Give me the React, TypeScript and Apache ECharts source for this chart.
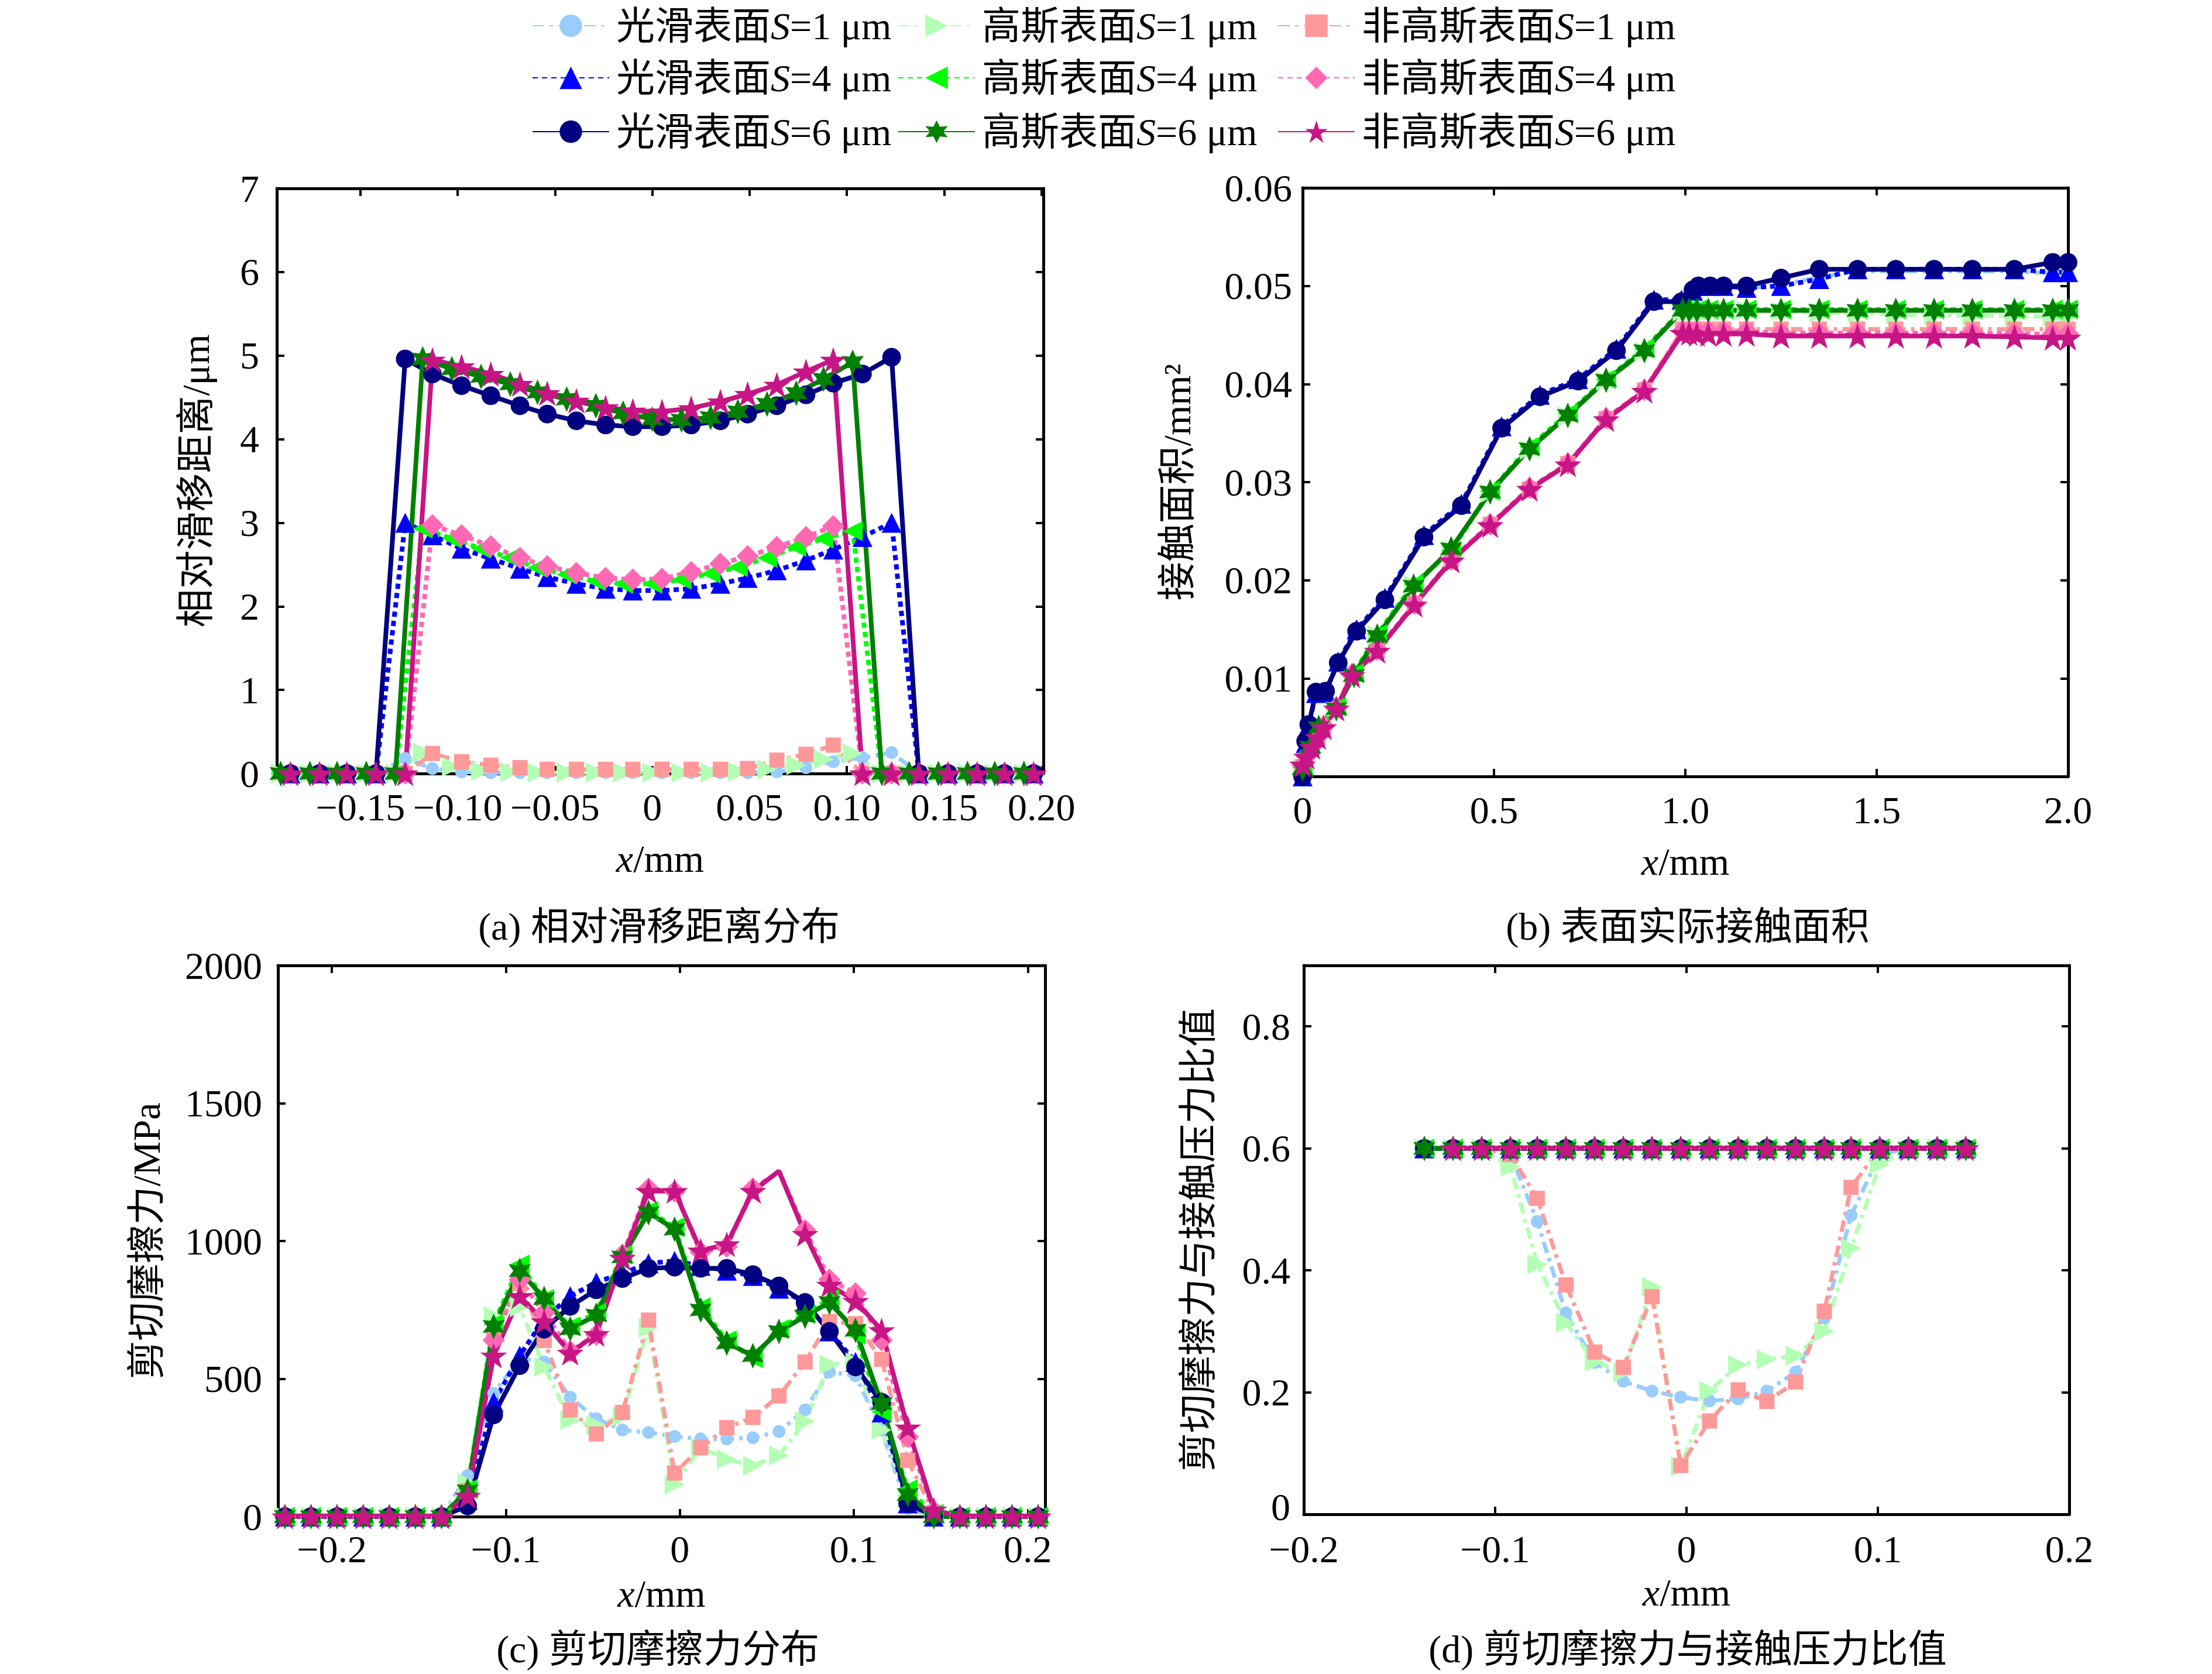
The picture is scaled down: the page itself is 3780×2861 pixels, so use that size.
import React, { useEffect, useRef } from "react";
import * as echarts from "echarts";

const FONT = "'Liberation Serif', 'Times New Roman', 'Noto Sans CJK SC', serif";

const NAMES = [
  "光滑表面S=1 μm", "高斯表面S=1 μm", "非高斯表面S=1 μm",
  "光滑表面S=4 μm", "高斯表面S=4 μm", "非高斯表面S=4 μm",
  "光滑表面S=6 μm", "高斯表面S=6 μm", "非高斯表面S=6 μm",
];

// ---------- panel (a): relative slip distance ----------
const aXSmooth = [-0.186, -0.171, -0.157, -0.142, -0.127, -0.113, -0.098, -0.083, -0.068, -0.054, -0.039, -0.024, -0.010, 0.005, 0.020, 0.035, 0.049, 0.064, 0.079, 0.093, 0.108, 0.123, 0.137, 0.152, 0.167, 0.181, 0.196];
const aXGauss = [-0.191, -0.176, -0.162, -0.147, -0.132, -0.118, -0.103, -0.088, -0.073, -0.059, -0.044, -0.029, -0.015, 0.000, 0.015, 0.030, 0.044, 0.059, 0.074, 0.088, 0.103, 0.118, 0.132, 0.147, 0.162, 0.176, 0.191];
const aSmooth1 = [0, 0, 0, 0, 0.18, 0.06, 0.02, 0.01, 0.01, 0.01, 0.01, 0.01, 0.01, 0.01, 0.01, 0.01, 0.01, 0.02, 0.07, 0.14, 0.19, 0.25, 0, 0, 0, 0, 0];
const aGauss1 = [0, 0, 0, 0, 0, 0.25, 0.08, 0.03, 0.02, 0.01, 0.01, 0.01, 0.01, 0.01, 0.01, 0.01, 0.02, 0.05, 0.10, 0.17, 0.24, 0, 0, 0, 0, 0, 0];
const aNon1 = [0, 0, 0, 0, 0, 0.24, 0.14, 0.10, 0.07, 0.05, 0.05, 0.05, 0.05, 0.05, 0.05, 0.05, 0.06, 0.16, 0.23, 0.34, 0, 0, 0, 0, 0, 0, 0];
const aSmooth4 = [0, 0, 0, 0, 3.00, 2.85, 2.69, 2.57, 2.45, 2.35, 2.27, 2.21, 2.19, 2.19, 2.21, 2.27, 2.34, 2.43, 2.55, 2.68, 2.83, 3.00, 0, 0, 0, 0, 0];
const aGauss4 = [0, 0, 0, 0, 0, 2.93, 2.81, 2.69, 2.58, 2.46, 2.38, 2.30, 2.27, 2.27, 2.32, 2.39, 2.47, 2.58, 2.71, 2.81, 2.90, 0, 0, 0, 0, 0, 0];
const aNon4 = [0, 0, 0, 0, 0, 2.97, 2.85, 2.72, 2.58, 2.48, 2.40, 2.34, 2.32, 2.33, 2.41, 2.51, 2.60, 2.71, 2.83, 2.96, 0, 0, 0, 0, 0, 0, 0];
const aSmooth6 = [0, 0, 0, 0, 4.96, 4.78, 4.64, 4.52, 4.40, 4.30, 4.22, 4.17, 4.15, 4.15, 4.17, 4.22, 4.30, 4.40, 4.53, 4.67, 4.78, 4.98, 0, 0, 0, 0, 0];
const aGauss6 = [0, 0, 0, 0, 0, 4.96, 4.84, 4.75, 4.66, 4.56, 4.48, 4.40, 4.31, 4.24, 4.23, 4.26, 4.33, 4.42, 4.55, 4.72, 4.92, 0, 0, 0, 0, 0, 0];
const aNon6 = [0, 0, 0, 0, 0, 4.95, 4.87, 4.78, 4.66, 4.55, 4.46, 4.38, 4.34, 4.33, 4.37, 4.45, 4.54, 4.65, 4.81, 4.95, 0, 0, 0, 0, 0, 0, 0];
const aXTicks = [-0.15, -0.10, -0.05, 0, 0.05, 0.10, 0.15, 0.20];
const aXLabels = ["\u22120.15", "\u22120.10", "\u22120.05", "0", "0.05", "0.10", "0.15", "0.20"];
const aYTicks = [0, 1, 2, 3, 4, 5, 6, 7];
const aYLabels = ["0", "1", "2", "3", "4", "5", "6", "7"];

// ---------- panel (b): real contact area ----------
const bXSmooth = [0, 0.008, 0.016, 0.035, 0.060, 0.093, 0.141, 0.215, 0.317, 0.415, 0.520, 0.620, 0.720, 0.820, 0.918, 0.990, 1.020, 1.034, 1.065, 1.100, 1.160, 1.250, 1.350, 1.450, 1.550, 1.650, 1.750, 1.860, 1.960, 2.000];
const bSmooth1 = [0.0000, 0.0035, 0.0052, 0.0085, 0.0086, 0.0116, 0.0149, 0.0181, 0.0245, 0.0277, 0.0356, 0.0388, 0.0404, 0.0435, 0.0485, 0.0485, 0.0495, 0.0499, 0.0499, 0.0499, 0.0498, 0.0501, 0.0509, 0.0515, 0.0515, 0.0515, 0.0515, 0.0515, 0.0513, 0.0513];
const bSmooth4 = [0.0000, 0.0034, 0.0052, 0.0085, 0.0086, 0.0117, 0.0150, 0.0182, 0.0246, 0.0278, 0.0357, 0.0389, 0.0405, 0.0436, 0.0486, 0.0486, 0.0495, 0.0500, 0.0500, 0.0500, 0.0498, 0.0500, 0.0507, 0.0517, 0.0517, 0.0517, 0.0517, 0.0517, 0.0514, 0.0514];
const bSmooth6 = [0.0000, 0.0036, 0.0053, 0.0086, 0.0087, 0.0116, 0.0148, 0.0180, 0.0244, 0.0276, 0.0355, 0.0387, 0.0403, 0.0434, 0.0484, 0.0484, 0.0496, 0.0500, 0.0500, 0.0500, 0.0500, 0.0508, 0.0517, 0.0517, 0.0517, 0.0517, 0.0517, 0.0517, 0.0524, 0.0524];
const bXGauss = [0, 0.020, 0.042, 0.088, 0.134, 0.195, 0.290, 0.388, 0.490, 0.593, 0.693, 0.793, 0.893, 0.993, 1.010, 1.030, 1.060, 1.100, 1.160, 1.250, 1.350, 1.450, 1.550, 1.650, 1.750, 1.860, 1.960, 2.000];
const bGauss1 = [0.0008, 0.0031, 0.0051, 0.0070, 0.0104, 0.0144, 0.0195, 0.0231, 0.0289, 0.0333, 0.0367, 0.0403, 0.0433, 0.0474, 0.0474, 0.0474, 0.0474, 0.0474, 0.0475, 0.0474, 0.0473, 0.0472, 0.0471, 0.0470, 0.0470, 0.0469, 0.0469, 0.0469];
const bGauss4 = [0.0009, 0.0032, 0.0052, 0.0071, 0.0105, 0.0145, 0.0196, 0.0230, 0.0291, 0.0336, 0.0370, 0.0405, 0.0436, 0.0476, 0.0476, 0.0476, 0.0476, 0.0476, 0.0476, 0.0476, 0.0476, 0.0476, 0.0476, 0.0476, 0.0476, 0.0476, 0.0476, 0.0476];
const bGauss6 = [0.0008, 0.0030, 0.0050, 0.0069, 0.0103, 0.0143, 0.0194, 0.0232, 0.0290, 0.0334, 0.0368, 0.0404, 0.0434, 0.0475, 0.0475, 0.0475, 0.0475, 0.0475, 0.0475, 0.0475, 0.0475, 0.0475, 0.0475, 0.0475, 0.0475, 0.0475, 0.0475, 0.0475];
const bXNon = [0, 0.010, 0.025, 0.040, 0.055, 0.088, 0.129, 0.195, 0.292, 0.389, 0.490, 0.593, 0.693, 0.793, 0.893, 0.993, 1.010, 1.030, 1.060, 1.100, 1.160, 1.250, 1.350, 1.450, 1.550, 1.650, 1.750, 1.860, 1.960, 2.000];
const bNon1 = [0.0010, 0.0020, 0.0030, 0.0041, 0.0051, 0.0070, 0.0103, 0.0128, 0.0176, 0.0221, 0.0257, 0.0293, 0.0319, 0.0365, 0.0394, 0.0456, 0.0456, 0.0456, 0.0456, 0.0456, 0.0456, 0.0456, 0.0456, 0.0456, 0.0456, 0.0456, 0.0456, 0.0456, 0.0456, 0.0456];
const bNon4 = [0.0011, 0.0021, 0.0031, 0.0041, 0.0051, 0.0070, 0.0104, 0.0129, 0.0176, 0.0221, 0.0257, 0.0294, 0.0319, 0.0365, 0.0394, 0.0454, 0.0454, 0.0454, 0.0454, 0.0454, 0.0454, 0.0452, 0.0452, 0.0452, 0.0452, 0.0452, 0.0452, 0.0451, 0.0451, 0.0451];
const bNon6 = [0.0012, 0.0020, 0.0030, 0.0040, 0.0050, 0.0069, 0.0103, 0.0128, 0.0175, 0.0220, 0.0256, 0.0293, 0.0318, 0.0364, 0.0393, 0.0452, 0.0452, 0.0451, 0.0451, 0.0451, 0.0451, 0.0449, 0.0449, 0.0449, 0.0449, 0.0449, 0.0449, 0.0448, 0.0447, 0.0447];
const bXTicks = [0, 0.5, 1.0, 1.5, 2.0];
const bXLabels = ["0", "0.5", "1.0", "1.5", "2.0"];
const bYTicks = [0, 0.01, 0.02, 0.03, 0.04, 0.05, 0.06];
const bYLabels = ["", "0.01", "0.02", "0.03", "0.04", "0.05", "0.06"];

// ---------- panel (c): shear friction stress ----------
const cX = [-0.227, -0.212, -0.197, -0.182, -0.167, -0.152, -0.137, -0.122, -0.107, -0.092, -0.078, -0.063, -0.048, -0.033, -0.018, -0.003, 0.012, 0.027, 0.042, 0.057, 0.072, 0.086, 0.101, 0.116, 0.131, 0.146, 0.161, 0.176, 0.191, 0.206];
const cSmooth1 = [0, 0, 0, 0, 0, 0, 0, 149, 447, 575, 561, 433, 355, 314, 305, 291, 282, 282, 286, 309, 387, 525, 511, 314, 29, 0, 0, 0, 0, 0];
const cGauss1 = [0, 0, 0, 0, 0, 0, 0, 121, 727, 760, 543, 350, 332, 364, 685, 117, 250, 208, 185, 222, 346, 552, 560, 314, 66, 0, 0, 0, 0, 0];
const cNon1 = [0, 0, 0, 0, 0, 0, 0, 94, 653, 846, 639, 387, 300, 378, 713, 158, 250, 323, 360, 438, 561, 708, 700, 571, 204, 15, 0, 0, 0, 0];
const cSmooth4 = [0, 0, 0, 0, 0, 0, 0, 60, 415, 584, 717, 800, 850, 883, 919, 928, 910, 892, 873, 827, 777, 672, 561, 378, 48, 0, 0, 0, 0, 0];
const cGauss4 = [0, 0, 0, 0, 0, 0, 0, 100, 700, 915, 790, 690, 740, 950, 1110, 1050, 760, 640, 575, 680, 735, 790, 660, 380, 100, 10, 0, 0, 0, 0];
const cNon4 = [0, 0, 0, 0, 0, 0, 0, 80, 640, 860, 740, 600, 660, 950, 1190, 1180, 960, 980, 1190, 1250, 1040, 860, 810, 640, 290, 20, 0, 0, 0, 0];
const cSmooth6 = [0, 0, 0, 0, 0, 0, 0, 39, 369, 548, 680, 763, 823, 864, 901, 905, 901, 901, 878, 837, 777, 672, 543, 415, 48, 2, 0, 0, 0, 0];
const cGauss6 = [0, 0, 0, 0, 0, 0, 0, 94, 690, 892, 791, 681, 731, 942, 1103, 1043, 750, 630, 584, 672, 727, 777, 676, 410, 80, 0, 0, 0, 0, 0];
const cNon6 = [0, 0, 0, 0, 0, 0, 0, 75, 584, 800, 708, 594, 662, 938, 1181, 1181, 965, 988, 1181, 1254, 1025, 841, 782, 676, 323, 25, 0, 0, 0, 0];
const cNoMarker = [19];
const cXTicks = [-0.2, -0.1, 0, 0.1, 0.2];
const cXLabels = ["\u22120.2", "\u22120.1", "0", "0.1", "0.2"];
const cYTicks = [0, 500, 1000, 1500, 2000];
const cYLabels = ["0", "500", "1000", "1500", "2000"];

// ---------- panel (d): shear friction / contact pressure ----------
const dX = [-0.137, -0.122, -0.107, -0.092, -0.078, -0.063, -0.048, -0.033, -0.018, -0.003, 0.012, 0.027, 0.042, 0.057, 0.072, 0.086, 0.101, 0.116, 0.131, 0.146];
const dSmooth1 = [0.6, 0.6, 0.6, 0.59, 0.48, 0.33, 0.249, 0.218, 0.202, 0.192, 0.186, 0.189, 0.202, 0.233, 0.322, 0.49, 0.59, 0.6, 0.6, 0.6];
const dGauss1 = [0.6, 0.6, 0.6, 0.57, 0.41, 0.314, 0.25, 0.233, 0.373, 0.078, 0.202, 0.245, 0.254, 0.26, 0.30, 0.436, 0.574, 0.597, 0.6, 0.6];
const dNon1 = [0.6, 0.6, 0.6, 0.59, 0.518, 0.376, 0.266, 0.241, 0.357, 0.08, 0.153, 0.204, 0.185, 0.217, 0.333, 0.536, 0.6, 0.6, 0.6, 0.6];
const dSmooth4 = [0.6, 0.6, 0.6, 0.6, 0.6, 0.6, 0.6, 0.6, 0.6, 0.6, 0.6, 0.6, 0.6, 0.6, 0.6, 0.6, 0.6, 0.6, 0.6, 0.6];
const dGauss4 = [0.6, 0.6, 0.6, 0.6, 0.6, 0.6, 0.6, 0.6, 0.6, 0.6, 0.6, 0.6, 0.6, 0.6, 0.6, 0.6, 0.6, 0.6, 0.6, 0.6];
const dNon4 = [null, 0.6, 0.6, 0.6, 0.6, 0.6, 0.6, 0.6, 0.6, 0.6, 0.6, 0.6, 0.6, 0.6, 0.6, 0.6, 0.6, 0.6, 0.6, 0.6];
const dSmooth6 = [0.6, 0.6, 0.6, 0.6, 0.6, 0.6, 0.6, 0.6, 0.6, 0.6, 0.6, 0.6, 0.6, 0.6, 0.6, 0.6, 0.6, 0.6, 0.6, 0.6];
const dGauss6 = [0.6, 0.6, 0.6, 0.6, 0.6, 0.6, 0.6, 0.6, 0.6, 0.6, 0.6, 0.6, 0.6, 0.6, 0.6, 0.6, 0.6, 0.6, 0.6, 0.6];
const dNon6 = [null, 0.6, 0.6, 0.6, 0.6, 0.6, 0.6, 0.6, 0.6, 0.6, 0.6, 0.6, 0.6, 0.6, 0.6, 0.6, 0.6, 0.6, 0.6, 0.6];
const dXTicks = [-0.2, -0.1, 0, 0.1, 0.2];
const dXLabels = ["\u22120.2", "\u22120.1", "0", "0.1", "0.2"];
const dYTicks = [0, 0.2, 0.4, 0.6, 0.8];
const dYLabels = ["0", "0.2", "0.4", "0.6", "0.8"];

const PENT = "path://M50,0 L61.2,34.5 L97.6,34.5 L68.2,55.9 L79.4,90.5 L50,69.1 L20.6,90.5 L31.8,55.9 L2.4,34.5 L38.8,34.5 Z";
const HEX = "path://M50,0 L62.5,28.35 L93.3,25 L75,50 L93.3,75 L62.5,71.65 L50,100 L37.5,71.65 L6.7,75 L25,50 L6.7,25 L37.5,28.35 Z";

const DASHDOT = [20, 9, 6, 9];
const DOT = [9, 7];
const STYLES = [
  { color: "#99CCFF", symbol: "circle", size: 22, rotate: 0, dash: DASHDOT, width: 7 },
  { color: "#B3FFB3", symbol: "triangle", size: 34, rotate: -90, dash: DASHDOT, width: 7 },
  { color: "#FF9999", symbol: "rect", size: 26, rotate: 0, dash: DASHDOT, width: 7 },
  { color: "#0000FF", symbol: "triangle", size: 34, rotate: 0, dash: DOT, width: 8 },
  { color: "#00FF00", symbol: "triangle", size: 34, rotate: 90, dash: DOT, width: 8 },
  { color: "#FF69B4", symbol: "diamond", size: 38, rotate: 0, dash: DOT, width: 8 },
  { color: "#000080", symbol: "circle", size: 32, rotate: 0, dash: "solid", width: 8 },
  { color: "#008000", symbol: HEX, size: 44, rotate: 0, dash: "solid", width: 8 },
  { color: "#C71585", symbol: PENT, size: 46, rotate: 0, dash: "solid", width: 8 },
];

const GRIDS = [
  { left: 473, top: 322, width: 1310, height: 1000 },
  { left: 2226, top: 321, width: 1308, height: 1006 },
  { left: 475, top: 1650, width: 1311, height: 942 },
  { left: 2228, top: 1650, width: 1308, height: 938 },
];

const TICK = { show: true, inside: true, length: 13, lineStyle: { color: "#000", width: 4 } };
const LINE = { show: true, onZero: false, lineStyle: { color: "#000", width: 5 } };

function fmt(ticks: number[], labels: string[], liftZero = false) {
  return (v: number) => {
    const i = ticks.findIndex((t) => Math.abs(t - v) < 1e-9);
    if (i < 0) return "";
    if (liftZero && i === 0) return "{up|" + labels[i] + "}";
    return labels[i];
  };
}

function xAxes(g: number, min: number, max: number, ticks: number[], labels: string[], gap: number, margin: number) {
  return [
    {
      type: "value", gridIndex: g, position: "bottom", min, max,
      axisLine: LINE, axisTick: { ...TICK, customValues: ticks },
      axisLabel: { customValues: ticks, formatter: fmt(ticks, labels), fontSize: 66, fontFamily: FONT, color: "#000", margin },
      splitLine: { show: false },
      name: "{i|x}/mm", nameLocation: "middle", nameGap: gap,
      nameTextStyle: { fontSize: 66, fontFamily: FONT, color: "#000", rich: { i: { fontStyle: "italic", fontSize: 66, fontFamily: FONT, color: "#000" } } },
    },
    {
      type: "value", gridIndex: g, position: "top", min, max,
      axisLine: LINE, axisTick: { ...TICK, customValues: ticks },
      axisLabel: { show: false }, splitLine: { show: false },
    },
  ];
}

function yAxes(g: number, min: number, max: number, ticks: number[], labels: string[], name: string, gap: number, margin: number, liftZero = false) {
  return [
    {
      type: "value", gridIndex: g, position: "left", min, max,
      axisLine: LINE, axisTick: { ...TICK, customValues: ticks },
      axisLabel: {
        customValues: ticks, formatter: fmt(ticks, labels, liftZero), fontSize: 66, fontFamily: FONT, color: "#000", margin,
        rich: { up: { fontSize: 66, fontFamily: FONT, color: "#000", padding: [0, 0, 26, 0] } },
      },
      splitLine: { show: false },
      name, nameLocation: "middle", nameRotate: 90, nameGap: gap,
      nameTextStyle: { fontSize: 66, fontFamily: FONT, color: "#000" },
    },
    {
      type: "value", gridIndex: g, position: "right", min, max,
      axisLine: LINE, axisTick: { ...TICK, customValues: ticks },
      axisLabel: { show: false }, splitLine: { show: false },
    },
  ];
}

function mk(i: number, g: number, xs: number[], ys: (number | null)[], noMark: number[] = []) {
  const st = STYLES[i];
  return {
    type: "line",
    name: NAMES[i],
    xAxisIndex: g * 2,
    yAxisIndex: g * 2,
    data: xs.map((x, k) => {
      const y = ys[k];
      if (y === null || y === undefined) return [x, "-"];
      if (noMark.includes(k)) return { value: [x, y], symbol: "none" };
      return [x, y];
    }),
    symbol: st.symbol,
    symbolSize: st.size,
    symbolRotate: st.rotate,
    symbolKeepAspect: true,
    showAllSymbol: true,
    clip: false,
    lineStyle: { color: st.color, width: st.width, type: st.dash },
    itemStyle: { color: st.color },
    emphasis: { disabled: true },
  };
}

const LEG_X = [904, 1529, 2178];
const LEG_Y = [6, 95, 187];

export default function App() {
  const ref = useRef<HTMLDivElement>(null);
  useEffect(() => {
    if (!ref.current) return;
    const chart = echarts.init(ref.current, undefined, { renderer: "svg" });

    const series: any[] = [];
    const aData = [
      [aXSmooth, aSmooth1], [aXGauss, aGauss1], [aXSmooth, aNon1],
      [aXSmooth, aSmooth4], [aXGauss, aGauss4], [aXSmooth, aNon4],
      [aXSmooth, aSmooth6], [aXGauss, aGauss6], [aXSmooth, aNon6],
    ];
    aData.forEach((d, i) => series.push(mk(i, 0, d[0] as number[], d[1] as number[])));
    const bData = [
      [bXSmooth, bSmooth1], [bXGauss, bGauss1], [bXNon, bNon1],
      [bXSmooth, bSmooth4], [bXGauss, bGauss4], [bXNon, bNon4],
      [bXSmooth, bSmooth6], [bXGauss, bGauss6], [bXNon, bNon6],
    ];
    bData.forEach((d, i) => series.push(mk(i, 1, d[0] as number[], d[1] as number[])));
    const cData = [cSmooth1, cGauss1, cNon1, cSmooth4, cGauss4, cNon4, cSmooth6, cGauss6, cNon6];
    cData.forEach((d, i) => series.push(mk(i, 2, cX, d, i === 5 || i === 8 ? cNoMarker : [])));
    const dData = [dSmooth1, dGauss1, dNon1, dSmooth4, dGauss4, dNon4, dSmooth6, dGauss6, dNon6];
    dData.forEach((d, i) => series.push(mk(i, 3, dX, d)));

    const legends = NAMES.map((n, i) => ({
      data: [n],
      left: LEG_X[i % 3],
      top: LEG_Y[Math.floor(i / 3)],
      itemWidth: 131,
      itemHeight: 48,
      selectedMode: false,
      formatter: (name: string) => name.replace("S=", "{i|S}="),
      textStyle: {
        fontSize: 66, lineHeight: 66, fontFamily: FONT, color: "#000", padding: [0, 0, 0, 7],
        rich: { i: { fontStyle: "italic", fontSize: 66, lineHeight: 66, fontFamily: FONT, color: "#000" } },
      },
    }));

    const cap = (x: number, y: number, text: string) => ({
      type: "text", x, y,
      style: { text, fontSize: 66, fontFamily: FONT, fill: "#000", align: "center", verticalAlign: "middle", textAlign: "center", textVerticalAlign: "middle" },
    });

    chart.setOption({
      animation: false,
      backgroundColor: "#fff",
      grid: GRIDS.map((g) => ({ ...g, containLabel: false })),
      legend: legends,
      xAxis: [
        ...xAxes(0, -0.193, 0.201, aXTicks, aXLabels, 112, 24),
        ...xAxes(1, 0, 2.0, bXTicks, bXLabels, 112, 24),
        ...xAxes(2, -0.231, 0.21, cXTicks, cXLabels, 98, 22),
        ...xAxes(3, -0.2, 0.2, dXTicks, dXLabels, 100, 26),
      ],
      yAxis: [
        ...yAxes(0, 0, 7, aYTicks, aYLabels, "相对滑移距离/μm", 106, 30),
        ...yAxes(1, 0, 0.06, bYTicks, bYLabels, "接触面积/mm²", 182, 18),
        ...yAxes(2, 0, 2000, cYTicks, cYLabels, "剪切摩擦力/MPa", 192, 27),
        ...yAxes(3, 0, 0.9, dYTicks, dYLabels, "剪切摩擦力与接触压力比值", 148, 23, true),
      ],
      series,
      graphic: [
        cap(1126, 1583, "(a) 相对滑移距离分布"),
        cap(2884, 1583, "(b) 表面实际接触面积"),
        cap(1124, 2818, "(c) 剪切摩擦力分布"),
        cap(2884, 2818, "(d) 剪切摩擦力与接触压力比值"),
      ],
    });
    return () => chart.dispose();
  }, []);
  return <div ref={ref} style={{ position: "absolute", left: 0, top: 0, width: 3780, height: 2861 }} />;
}
